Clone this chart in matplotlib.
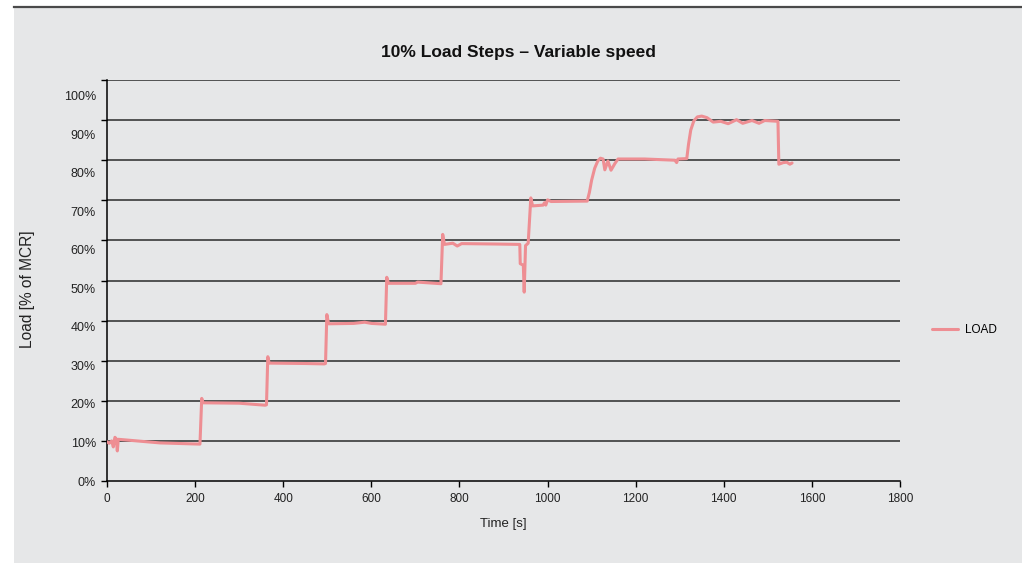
import matplotlib
matplotlib.use("Agg")
import matplotlib.pyplot as plt
from matplotlib.patches import Rectangle
from matplotlib.lines import Line2D

# ---- data ----
time_s = [0, 5, 10.7, 14.3, 18, 21, 23.4, 25.6, 120, 211,
          215, 218, 300, 359, 362,
          365, 368, 450, 493, 496,
          499, 503, 560, 585, 600, 632,
          635, 639, 700, 705, 758,
          762, 766, 785, 795, 805, 880, 937, 938, 945, 947, 950, 956,
          962, 966, 990, 993, 996, 1000, 1008, 1090,
          1095, 1100, 1107, 1114, 1120, 1126, 1130, 1137, 1141, 1144, 1153, 1160,
          1220, 1289, 1293, 1296, 1316,
          1320, 1325, 1332, 1340, 1350, 1362, 1376, 1393, 1410, 1429, 1443,
          1464, 1480, 1493, 1523,
          1525, 1535, 1543, 1550, 1555]
load_pct = [9.8, 9.4, 10.0, 8.5, 10.9, 10.5, 7.5, 10.4, 9.5, 9.2,
            20.6, 19.5, 19.4, 18.9, 19.0,
            31.0, 29.4, 29.3, 29.2, 29.3,
            41.5, 39.2, 39.3, 39.6, 39.3, 39.1,
            50.8, 49.3, 49.3, 49.6, 49.2,
            61.5, 59.0, 59.3, 58.6, 59.2, 59.1, 59.0, 54.2, 53.8, 47.1, 58.7, 59.3,
            70.6, 68.6, 68.8, 69.4, 68.8, 70.1, 69.7, 69.8,
            72.0, 75.0, 78.0, 79.8, 80.5, 80.3, 77.6, 79.8, 78.5, 77.5, 79.2, 80.3,
            80.3, 80.0, 79.4, 80.3, 80.4,
            84.0, 87.5, 89.8, 90.8, 91.0, 90.6, 89.5, 89.7, 89.1, 90.1, 89.2,
            89.9, 89.2, 89.9, 89.7,
            79.0, 79.4, 79.5, 79.0, 79.3]

x_ticks = [0, 200, 400, 600, 800, 1000, 1200, 1400, 1600, 1800]
y_ticks = [0, 10, 20, 30, 40, 50, 60, 70, 80, 90, 100]
y_tick_labels = [f"{v}%" for v in y_ticks]

title = "10% Load Steps \u2013 Variable speed"
x_label = "Time [s]"
y_label = "Load [% of MCR]"
series_name = "LOAD"

# ---- figure ----
plt.rcParams['font.family'] = ['Liberation Sans', 'DejaVu Sans']
W, H = 1022, 563
fig = plt.figure(figsize=(W / 100, H / 100), dpi=100)
fig.patch.set_facecolor("white")

bg = "#e6e7e8"
fig.patches.append(Rectangle((14 / W, 0), 1 - 14 / W, 1 - 8 / H,
                             transform=fig.transFigure, facecolor=bg,
                             edgecolor="none", zorder=-10))
fig.lines.append(Line2D([14 / W, 1], [1 - 7 / H, 1 - 7 / H],
                        transform=fig.transFigure, color="#4a4a4a", lw=1.6,
                        zorder=-9))

left, right = 107 / W, 900 / W
bottom, top = 1 - 481 / H, 1 - 80 / H
rect = [left, bottom, right - left, top - bottom]
ax = fig.add_axes(rect)
ax.set_zorder(5)
ax.set_facecolor(bg)

line_color = "#ee8e93"
ax.plot(time_s, load_pct, color=line_color, lw=2.2, solid_joinstyle="round",
        solid_capstyle="round", label=series_name, zorder=3)

ax.set_xlim(0, 1800)
ax.set_ylim(0, 100)
ax.set_xticks(x_ticks)
ax.set_xticklabels([str(v) for v in x_ticks], fontsize=8.5, color="#222222")
ax.set_yticks(y_ticks)
ax.tick_params(axis="both", direction="out", length=4, width=1.0, color="black")
ax.tick_params(axis="x", pad=4.5)
ax.tick_params(axis="y", labelleft=False)

for v in y_ticks[1:]:
    ax.axhline(v, color="#2a2a2a", lw=1.1, zorder=1)

for s in ["top", "right"]:
    ax.spines[s].set_visible(False)
for s in ["left", "bottom"]:
    ax.spines[s].set_color("black")
    ax.spines[s].set_linewidth(1.1)

# y tick labels (in the reference they sit on a slightly compressed scale)
ax2 = fig.add_axes(rect, frameon=False)
ax2.set_zorder(6)
ax2.patch.set_visible(False)
ax2.set_ylim(0.26, 104.15)
ax2.set_yticks(y_ticks)
ax2.set_yticklabels(y_tick_labels, fontsize=9, color="#222222")
ax2.tick_params(axis="y", length=0, pad=8)
ax2.set_xticks([])

fig.text(518 / W, 1 - 52 / H, title, fontsize=12.5, fontweight="bold",
         color="#111111", ha="center", va="center")
ax.set_xlabel(x_label, fontsize=9.5, labelpad=9.5, color="#222222")
ax2.set_ylabel(y_label, fontsize=11.2, color="#222222")
ax2.yaxis.set_label_coords((35 - 107) / 793, (481 - 289) / 401)

fig.legend(loc="center left", bbox_to_anchor=(921 / W, 1 - 330 / H),
           frameon=False, fontsize=8.5, handlelength=2.2, handletextpad=0.6)

fig.savefig("out.png", dpi=100, facecolor=fig.get_facecolor())
